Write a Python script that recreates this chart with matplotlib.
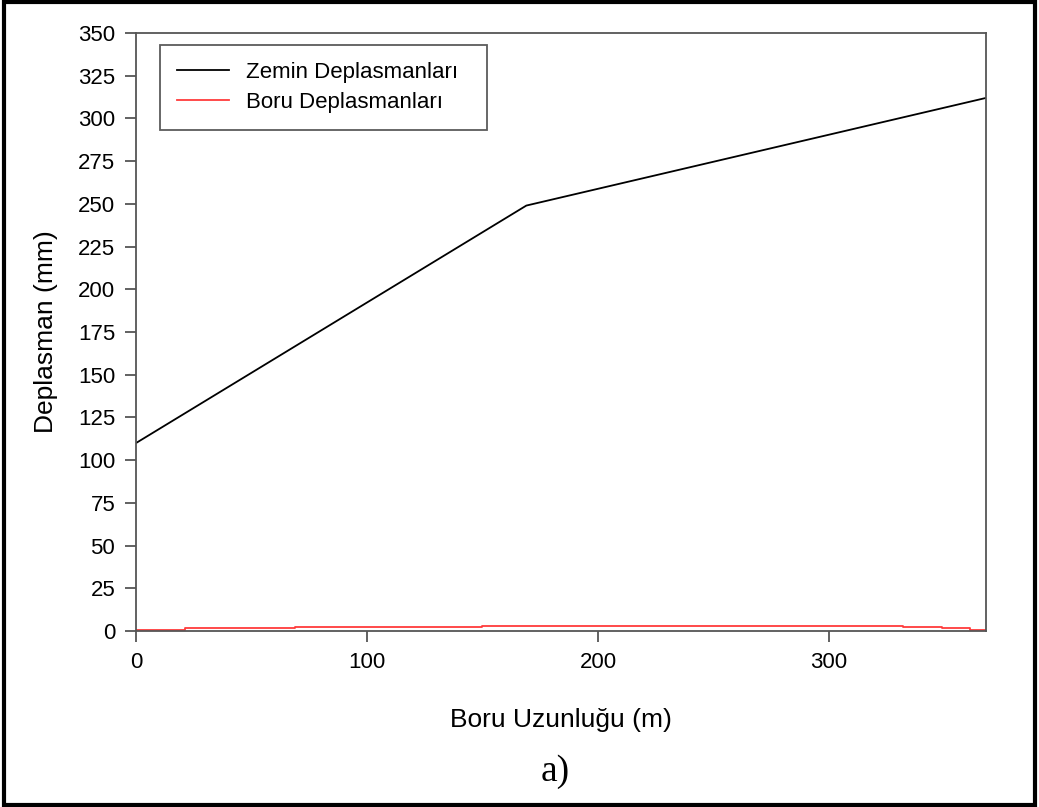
import matplotlib
matplotlib.use("Agg")
import matplotlib.pyplot as plt
from matplotlib.patches import Rectangle

# Ground displacement along the pipe (piecewise linear)
zemin_x = [0, 169, 368]
zemin_y = [110, 249, 312]

# Pipe displacement (stepped profile)
boru_x = [0, 21, 69, 150, 332, 349, 361, 368]
boru_y = [0.3, 1.5, 2.2, 3.0, 2.2, 1.5, 0.3, 0.3]

y_ticks = list(range(0, 351, 25))
x_ticks = [0, 100, 200, 300]

plt.rcParams['font.family'] = ['Liberation Sans', 'DejaVu Sans']

fig = plt.figure(figsize=(10.39, 8.07), dpi=100)
ax = fig.add_axes([136/1039, 1 - 631/807, 850/1039, 598/807])

ax.plot(zemin_x, zemin_y, color='black', lw=1.3, label='Zemin Deplasmanları')
ax.plot(boru_x, boru_y, color='#ff3b3b', lw=1.3, drawstyle='steps-post',
        label='Boru Deplasmanları')

ax.set_xlim(0, 368)
ax.set_ylim(0, 350)
ax.set_xticks(x_ticks)
ax.set_yticks(y_ticks)

for s in ax.spines.values():
    s.set_color('#555555')
    s.set_linewidth(1.3)
ax.tick_params(direction='out', length=8, width=1.3, color='#555555',
               labelsize=16, pad=7)

ax.set_xlabel('Boru Uzunluğu (m)', fontsize=19, labelpad=25)
ax.set_ylabel('Deplasman (mm)', fontsize=19, labelpad=14)

leg_h = 87 / 598
leg = ax.legend(loc='upper left', mode='expand',
                bbox_to_anchor=(24/850, 0.98 - leg_h, 327/850, leg_h),
                borderaxespad=0, fontsize=16, frameon=True, fancybox=False,
                handlelength=2.35, handletextpad=0.75, borderpad=0.75,
                labelspacing=0.42)
leg.get_frame().set_edgecolor('#333333')
leg.get_frame().set_linewidth(1.3)

fig.text(555/1039, 1 - 772/807, 'a)', ha='center', va='center',
         fontsize=27, family='Liberation Serif')

fig.patches.append(Rectangle((0.004, 0.003), 0.992, 0.994, transform=fig.transFigure,
                             fill=False, edgecolor='black', linewidth=3))

fig.savefig('out.png', dpi=100)
